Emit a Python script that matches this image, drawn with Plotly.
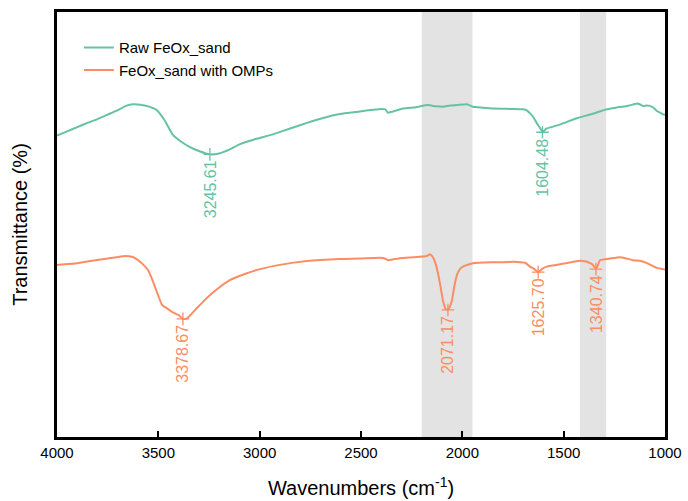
import plotly.graph_objects as go

# FTIR spectra (relative transmittance, arbitrary scale)
raw_wn = [4000, 3950, 3900, 3850, 3800, 3753, 3700, 3660, 3625, 3590, 3550, 3507, 3470, 3428, 3390,
          3344, 3300, 3245.61, 3200, 3150, 3097, 3020, 2934, 2850, 2767, 2700, 2604, 2505, 2441,
          2400, 2380, 2367, 2350, 2293, 2230, 2170, 2130, 2096, 2060, 2027, 1977, 1948, 1900,
          1849, 1760, 1701, 1680, 1667, 1650, 1632, 1615, 1604.48, 1595, 1583, 1520, 1435, 1360,
          1287, 1240, 1188, 1160, 1139, 1125, 1109, 1090, 1075, 1055, 1040, 1020, 1010, 1000]
raw_t = [70.9, 71.9, 72.9, 73.9, 74.8, 75.8, 76.9, 77.9, 78.3, 78.2, 77.8, 76.9, 74.6, 71.1, 69.6,
         68.2, 67.3, 66.5, 66.7, 67.6, 68.9, 70.1, 71.2, 72.6, 73.9, 74.9, 76.0, 76.6, 77.0,
         77.2, 77.1, 76.3, 76.5, 77.3, 77.6, 78.1, 77.8, 77.7, 78.0, 78.1, 78.3, 77.7, 77.5,
         77.3, 77.2, 77.1, 76.8, 76.2, 75.3, 73.8, 72.6, 71.7, 72.2, 72.6, 73.5, 75.0, 76.0,
         77.1, 77.5, 77.9, 78.2, 78.5, 78.3, 77.9, 78.0, 77.9, 77.4, 76.7, 76.2, 75.9, 75.8]

omp_wn = [4000, 3900, 3837, 3750, 3665, 3630, 3605, 3580, 3551, 3535, 3517, 3500, 3482, 3455, 3428,
          3400, 3378.67, 3359, 3320, 3280, 3220, 3147, 3070, 2998, 2900, 2767, 2604, 2505, 2407,
          2382, 2367, 2300, 2240, 2175, 2160, 2145, 2132, 2120, 2108, 2096, 2083, 2071.17, 2062,
          2051, 2040, 2027, 2012, 1997, 1948, 1850, 1731, 1690, 1667, 1645, 1625.70, 1605, 1583,
          1500, 1420, 1390, 1370, 1355, 1340.74, 1330, 1321, 1270, 1222, 1190, 1158, 1120, 1089,
          1060, 1040, 1020, 1010, 1000]
omp_t = [40.5, 40.9, 41.4, 42.0, 42.6, 42.4, 41.8, 40.8, 39.3, 37.6, 35.4, 33.2, 31.1, 30.2, 29.3,
         28.7, 27.8, 27.9, 29.8, 31.8, 34.4, 36.9, 38.4, 39.5, 40.5, 41.4, 41.9, 42.0, 42.2,
         42.0, 41.6, 42.1, 42.3, 42.6, 43.0, 42.3, 40.8, 38.5, 35.5, 32.2, 30.2, 29.9, 30.6,
         32.2, 35.3, 38.1, 39.5, 40.1, 40.9, 41.1, 41.2, 41.0, 40.1, 39.5, 38.8, 39.6, 40.1,
         40.8, 41.5, 41.3, 40.9, 40.5, 39.5, 40.6, 41.6, 42.0, 42.3, 42.0, 41.6, 41.4, 40.9,
         40.2, 39.8, 39.6, 39.5, 39.4]

series_names = ["Raw FeOx_sand", "FeOx_sand with OMPs"]
colors = ["#66c2a5", "#fc8d62"]

raw_peaks = [3245.61, 1604.48]
omp_peaks = [3378.67, 2071.17, 1625.70, 1340.74]

# highlighted wavenumber windows
bands = [(2200, 1950), (1420, 1290)]

x_ticks = [4000, 3500, 3000, 2500, 2000, 1500, 1000]

FONT = "Arial, Liberation Sans, sans-serif"

fig = go.Figure()

series = [(raw_wn, raw_t, raw_peaks), (omp_wn, omp_t, omp_peaks)]
for (wn, t, peaks), name, color in zip(series, series_names, colors):
    fig.add_trace(go.Scatter(x=wn, y=t, mode="lines", name=name,
                             line=dict(color=color, width=2, shape="spline", smoothing=0.4)))
    py = [t[wn.index(p)] for p in peaks]
    fig.add_trace(go.Scatter(x=peaks, y=py, mode="markers", showlegend=False, hoverinfo="skip",
                             marker=dict(symbol="cross-thin", size=9,
                                         line=dict(color=color, width=1.3))))
    for p, v in zip(peaks, py):
        fig.add_annotation(x=p, y=v, text=f"{p:.2f}", textangle=-90, showarrow=False,
                           xanchor="center", yanchor="top", yshift=-4,
                           font=dict(family=FONT, size=16, color=color))

for a, b in bands:
    fig.add_shape(type="rect", xref="x", yref="paper", x0=a, x1=b, y0=0, y1=1,
                  fillcolor="#e3e3e3", line=dict(width=0), layer="below")

fig.update_layout(
    width=688, height=501,
    margin=dict(l=57, r=23, t=12, b=64, autoexpand=False),
    plot_bgcolor="white", paper_bgcolor="white",
    font=dict(family=FONT, size=15, color="black"),
    showlegend=True,
    legend=dict(x=0.036, y=0.955, xanchor="left", yanchor="top",
                bgcolor="rgba(0,0,0,0)", font=dict(size=15), tracegroupgap=0,
                itemwidth=30),
)
fig.update_xaxes(range=[4000, 1000], tickvals=x_ticks, ticktext=[str(v) for v in x_ticks],
                 ticks="inside", ticklen=6, tickwidth=2, tickcolor="black",
                 showline=True, linewidth=2.5, linecolor="black", mirror=True,
                 showgrid=False, zeroline=False, tickfont=dict(size=15), automargin=False,
                 title=dict(text="Wavenumbers (cm<sup>-1</sup>)", font=dict(size=20), standoff=22))
fig.update_yaxes(range=[0, 100], showticklabels=False, ticks="", automargin=False,
                 showline=True, linewidth=2.5, linecolor="black", mirror=True,
                 showgrid=False, zeroline=False,
                 title=dict(text="Transmittance (%)", font=dict(size=20), standoff=22))

fig.write_html("out.html")
